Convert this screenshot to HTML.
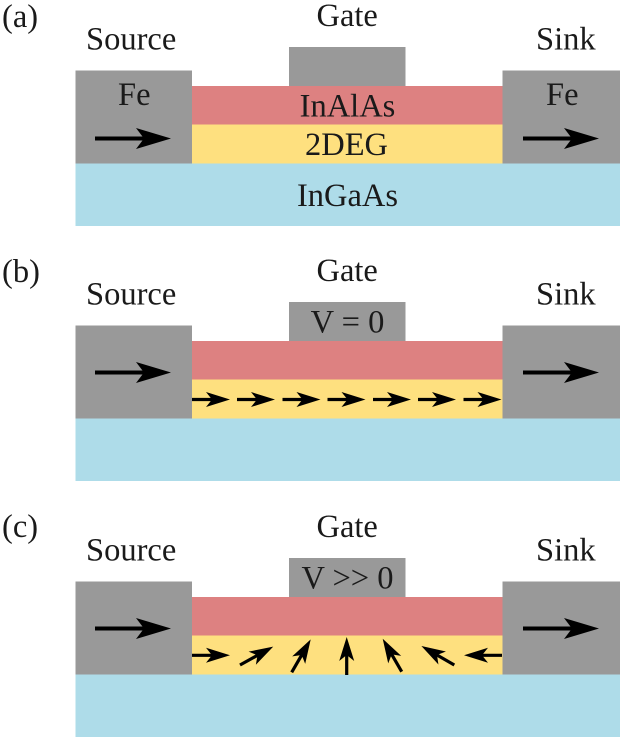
<!DOCTYPE html>
<html><head><meta charset="utf-8"><style>
html,body{margin:0;padding:0;background:#fff;width:623px;height:740px;overflow:hidden}
svg{display:block}
text{font-family:"Liberation Serif",serif;font-size:32.5px;fill:#1a1a1a}
</style></head><body>
<svg width="623" height="740" viewBox="0 0 623 740" xmlns="http://www.w3.org/2000/svg">
<defs>
<g id="dev">
<rect x="75.5" y="163.5" width="544.5" height="62.5" fill="#aedce9"/>
<rect x="192" y="86" width="310.5" height="38.5" fill="#dd8181"/>
<rect x="192" y="124.5" width="310.5" height="39" fill="#fee07f"/>
<rect x="75.5" y="70.5" width="116.5" height="93" fill="#999999"/>
<rect x="502.5" y="70.5" width="117.5" height="93" fill="#999999"/>
<rect x="289" y="47" width="116.5" height="39" fill="#999999"/>
</g>
<g id="b"><path d="M0 0H50" stroke="#000" stroke-width="4"/><path d="M41 -10.5L76 0L41 10.5L49 0Z" fill="#000"/></g>
<g id="s"><path d="M0 0H26" stroke="#000" stroke-width="3.2"/><path d="M14 -7.5L38 0L14 7.5L20 0Z" fill="#000"/></g>
</defs>

<use href="#dev"/>
<use href="#dev" y="255"/>
<use href="#dev" y="511"/>

<use href="#b" transform="translate(95,138.5)"/>
<use href="#b" transform="translate(523,138.5)"/>
<use href="#b" transform="translate(95,372.5)"/>
<use href="#b" transform="translate(523,372.5)"/>
<use href="#b" transform="translate(95,628.5)"/>
<use href="#b" transform="translate(523,628.5)"/>

<text x="2" y="27">(a)</text>
<text x="2" y="282">(b)</text>
<text x="2" y="537">(c)</text>

<text x="86" y="49.5">Source</text>
<text x="316.5" y="26">Gate</text>
<text x="536" y="49.5">Sink</text>
<text x="118" y="105">Fe</text>
<text x="546" y="105">Fe</text>
<text x="347.5" y="116.5" text-anchor="middle">InAlAs</text>
<text x="346.5" y="155" text-anchor="middle">2DEG</text>
<text x="347.5" y="206" text-anchor="middle">InGaAs</text>

<text x="86" y="304.5">Source</text>
<text x="316.5" y="281">Gate</text>
<text x="536" y="304.5">Sink</text>
<text x="347.5" y="332.5" text-anchor="middle">V = 0</text>

<text x="86" y="560.5">Source</text>
<text x="316.5" y="537">Gate</text>
<text x="536" y="560.5">Sink</text>
<text x="347.5" y="588.5" text-anchor="middle">V &gt;&gt; 0</text>

<use href="#s" transform="translate(192,399.5)"/>
<use href="#s" transform="translate(237,399.5)"/>
<use href="#s" transform="translate(282.5,399.5)"/>
<use href="#s" transform="translate(327.5,399.5)"/>
<use href="#s" transform="translate(373,399.5)"/>
<use href="#s" transform="translate(418,399.5)"/>
<use href="#s" transform="translate(463.5,399.5)"/>

<use href="#s" transform="translate(192,655.3)"/>
<use href="#s" transform="translate(240,665) rotate(-29)"/>
<use href="#s" transform="translate(291.7,672.3) rotate(-60)"/>
<use href="#s" transform="translate(346.7,675) rotate(-90)"/>
<use href="#s" transform="translate(401.7,671.7) rotate(-120)"/>
<use href="#s" transform="translate(454.3,665) rotate(-150)"/>
<use href="#s" transform="translate(502,655.3) rotate(180)"/>
</svg>
</body></html>
